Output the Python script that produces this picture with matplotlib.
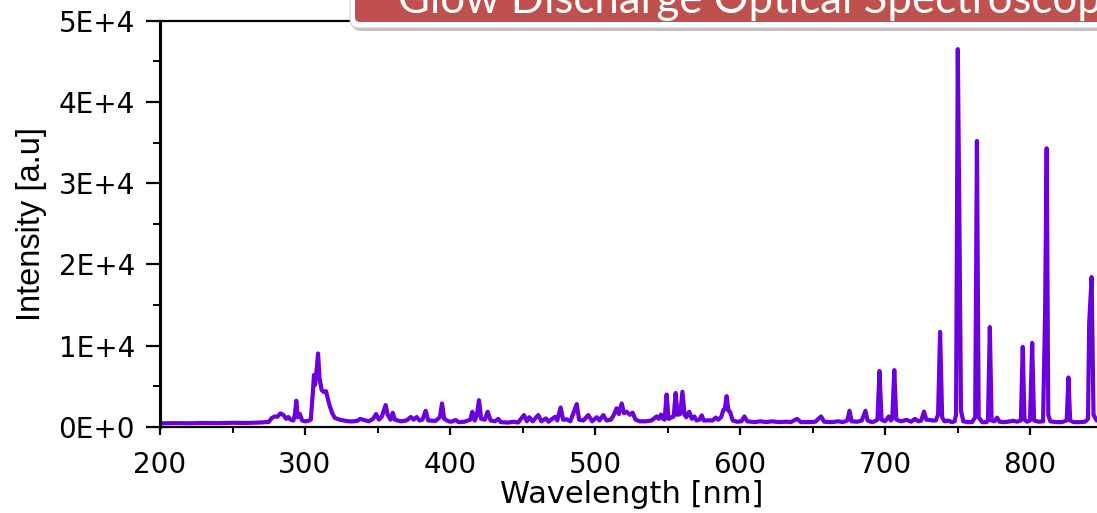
import matplotlib
matplotlib.use("Agg")
import matplotlib.pyplot as plt
from matplotlib.patches import FancyBboxPatch
from matplotlib.ticker import MultipleLocator, FixedLocator

# ---- data (wavelength nm, intensity a.u.) ----
wavelength = [
    200, 210, 220, 230, 240, 250, 260, 270, 275, 277, 279, 281, 283, 285, 287,
    288.5, 290, 292, 293, 294, 295, 296.5, 298, 300, 302, 304, 305.5, 306.2,
    307, 308, 309, 310, 311.5, 313, 314.5, 316, 317.2, 319, 320.7, 324, 328,
    332, 336, 338, 340, 344, 347, 349, 351, 353, 355.6, 357, 359, 360.5, 362,
    366, 370, 373, 375, 377, 379, 381, 383.2, 385, 390, 393, 394.5, 396, 399,
    401, 403.9, 406, 410, 414, 415.4, 417, 418.5, 420, 421.5, 424, 426, 428,
    431, 433.3, 435, 440, 444, 447, 451, 453, 454.7, 457, 460.9, 463, 466.2,
    468, 472.4, 474, 476.3, 478, 480.5, 483, 487.4, 489, 492, 495.4, 498,
    501.2, 503, 505.7, 508, 511, 513, 514.9, 516.5, 518.4, 520, 521.8, 524,
    525.9, 528, 531, 535, 539, 542.5, 544, 545.5, 547, 548, 549.4, 550.8,
    553, 554.3, 555.6, 557, 558.8, 560.3, 561.8, 563, 565, 566.8, 568.5, 570,
    572, 573.6, 575, 578.6, 581, 583.4, 585, 587, 588.5, 589.5, 590.8, 592,
    593.1, 595, 598, 601, 603, 605, 610, 614, 618, 622, 627, 632, 635, 639.3,
    642, 648, 652, 655.9, 658, 663, 667.8, 671, 674, 675.5, 677, 681, 684,
    686.5, 688, 691, 693, 694.8, 696.2, 697.6, 700, 702.6, 704, 705, 706.4,
    707.8, 711, 714.9, 718, 720.7, 723, 725, 726.9, 728.5, 731, 733, 735,
    736.6, 738, 739.4, 741, 743.7, 746, 748, 749, 750.2, 751.4, 752.4, 754,
    757, 760, 762.2, 763.4, 764.6, 767, 770, 771, 772.3, 773.5, 775.5, 777.3,
    779, 782, 785, 788.5, 791, 793.7, 795, 796.2, 798, 800, 801.5, 802.8,
    806, 809, 810.4, 811.5, 812.6, 814, 818, 822, 825.3, 826.5, 827.7, 830,
    834, 838, 840, 840.8, 842.5, 843.8, 846, 850,
]
intensity = [
    450, 480, 460, 500, 480, 520, 500, 560, 620, 1100, 1300, 1250, 1680, 1500,
    1000, 1230, 900, 800, 1500, 3230, 1200, 1600, 800, 700, 750, 900, 4500,
    6400, 5200, 7000, 9050, 6000, 4540, 4300, 4400, 3300, 2500, 1600, 1100,
    900, 750, 680, 750, 1000, 900, 700, 1000, 1600, 900, 1300, 2700, 1500,
    900, 1750, 900, 700, 800, 1230, 900, 1230, 800, 900, 2000, 800, 750, 1200,
    2900, 1000, 700, 650, 860, 600, 650, 900, 1880, 800, 1400, 3300, 1000,
    900, 1880, 800, 700, 1000, 600, 550, 650, 550, 1470, 700, 1200, 700, 1470,
    700, 1060, 650, 1250, 800, 2400, 900, 940, 700, 2820, 900, 800, 1470, 700,
    1200, 800, 1470, 800, 900, 1500, 2300, 1600, 2900, 1700, 1880, 1500, 1760,
    900, 700, 700, 800, 1300, 1000, 1530, 1000, 900, 4000, 1000, 1200, 1300,
    4180, 1500, 1600, 4340, 1500, 1200, 1880, 1000, 1300, 800, 900, 1430, 800,
    820, 800, 1160, 900, 1200, 2100, 2200, 3800, 2000, 1880, 800, 650, 700,
    1300, 700, 600, 700, 600, 700, 600, 650, 600, 1000, 600, 600, 650, 1300,
    650, 600, 700, 600, 800, 2000, 700, 650, 800, 2000, 800, 600, 700, 900,
    6900, 900, 700, 1300, 800, 1000, 7000, 900, 700, 870, 650, 1000, 700, 800,
    1900, 900, 870, 800, 800, 1500, 11700, 1200, 700, 800, 600, 700, 1500,
    46500, 23800, 2000, 700, 600, 600, 1200, 35200, 1200, 600, 600, 800,
    12300, 800, 700, 1150, 650, 600, 650, 770, 650, 800, 9860, 900, 650, 800,
    10350, 800, 650, 700, 14000, 34300, 1500, 700, 600, 600, 800, 6100, 800,
    600, 600, 650, 1000, 12770, 18460, 1500, 800, 700,
]

x_major = [200, 300, 400, 500, 600, 700, 800]
y_major = [0, 10000, 20000, 30000, 40000, 50000]
y_labels = ["0E+0", "1E+4", "2E+4", "3E+4", "4E+4", "5E+4"]
title_text = "Glow Discharge Optical Spectroscopy"

W, H = 1097, 513
fig = plt.figure(figsize=(W / 100, H / 100), dpi=100)
fig.patch.set_facecolor("white")

ax_l, ax_r, ax_t, ax_b = 160, 1102.5, 20.7, 427
ax = fig.add_axes([ax_l / W, 1 - ax_b / H, (ax_r - ax_l) / W, (ax_b - ax_t) / H])

ax.plot(wavelength, intensity, color="#6C00DC", lw=3.0, solid_joinstyle="round")
ax.set_xlim(200, 850)
ax.set_ylim(0, 50000)

ax.xaxis.set_major_locator(FixedLocator(x_major))
ax.xaxis.set_minor_locator(MultipleLocator(50))
ax.set_yticks(y_major)
ax.set_yticklabels(y_labels)
ax.yaxis.set_minor_locator(MultipleLocator(5000))

for s in ["left", "bottom", "top"]:
    ax.spines[s].set_linewidth(1.6)
ax.spines["left"].set_linewidth(2.2)
ax.spines["right"].set_visible(False)

ax.tick_params(axis="y", which="major", direction="out", length=10, width=1.6,
               labelsize=20, pad=8)
ax.tick_params(axis="y", which="minor", direction="out", length=5, width=1.4)
ax.tick_params(axis="x", which="major", direction="out", length=6, width=1.6,
               labelsize=20, pad=11)
ax.tick_params(axis="x", which="minor", direction="out", length=4, width=1.4)
ax.tick_params(top=False, right=False, which="both")
for lab in ax.get_xticklabels() + ax.get_yticklabels():
    lab.set_family("DejaVu Sans")

ax.set_xlabel("Wavelength [nm]", family="DejaVu Sans", fontsize=22, labelpad=1)
ax.set_ylabel("Intensity [a.u]", family="Liberation Sans", fontsize=23.5, labelpad=8)

# title banner (cropped at the top right)
tr = fig.dpi_scale_trans
def px(xp, yp):
    return xp / 100, (H - yp) / 100

sx, sy = px(352, 31)
shadow = FancyBboxPatch((sx, sy), 8.0, 1.0, boxstyle="round,pad=0,rounding_size=0.09",
                        transform=tr, facecolor="#b5b5b5", edgecolor="none",
                        alpha=0.8, clip_on=False, zorder=5)
fig.patches.append(shadow)
wx, wy = px(350, 28)
white = FancyBboxPatch((wx, wy), 8.0, 1.0, boxstyle="round,pad=0,rounding_size=0.09",
                       transform=tr, facecolor="white", edgecolor="#d0d0d0",
                       lw=0.8, clip_on=False, zorder=6)
fig.patches.append(white)
rx, ry = px(355, 22)
red = FancyBboxPatch((rx, ry), 8.0, 1.0, boxstyle="round,pad=0,rounding_size=0.05",
                     transform=tr, facecolor="#C0504D", edgecolor="none",
                     clip_on=False, zorder=7)
fig.patches.append(red)
tx, ty = px(398, 13)
fig.text(tx, ty, title_text, transform=tr, color="white", fontsize=31.5,
         family="Lato", ha="left", va="baseline", zorder=8)

fig.savefig("out.png", dpi=100)
